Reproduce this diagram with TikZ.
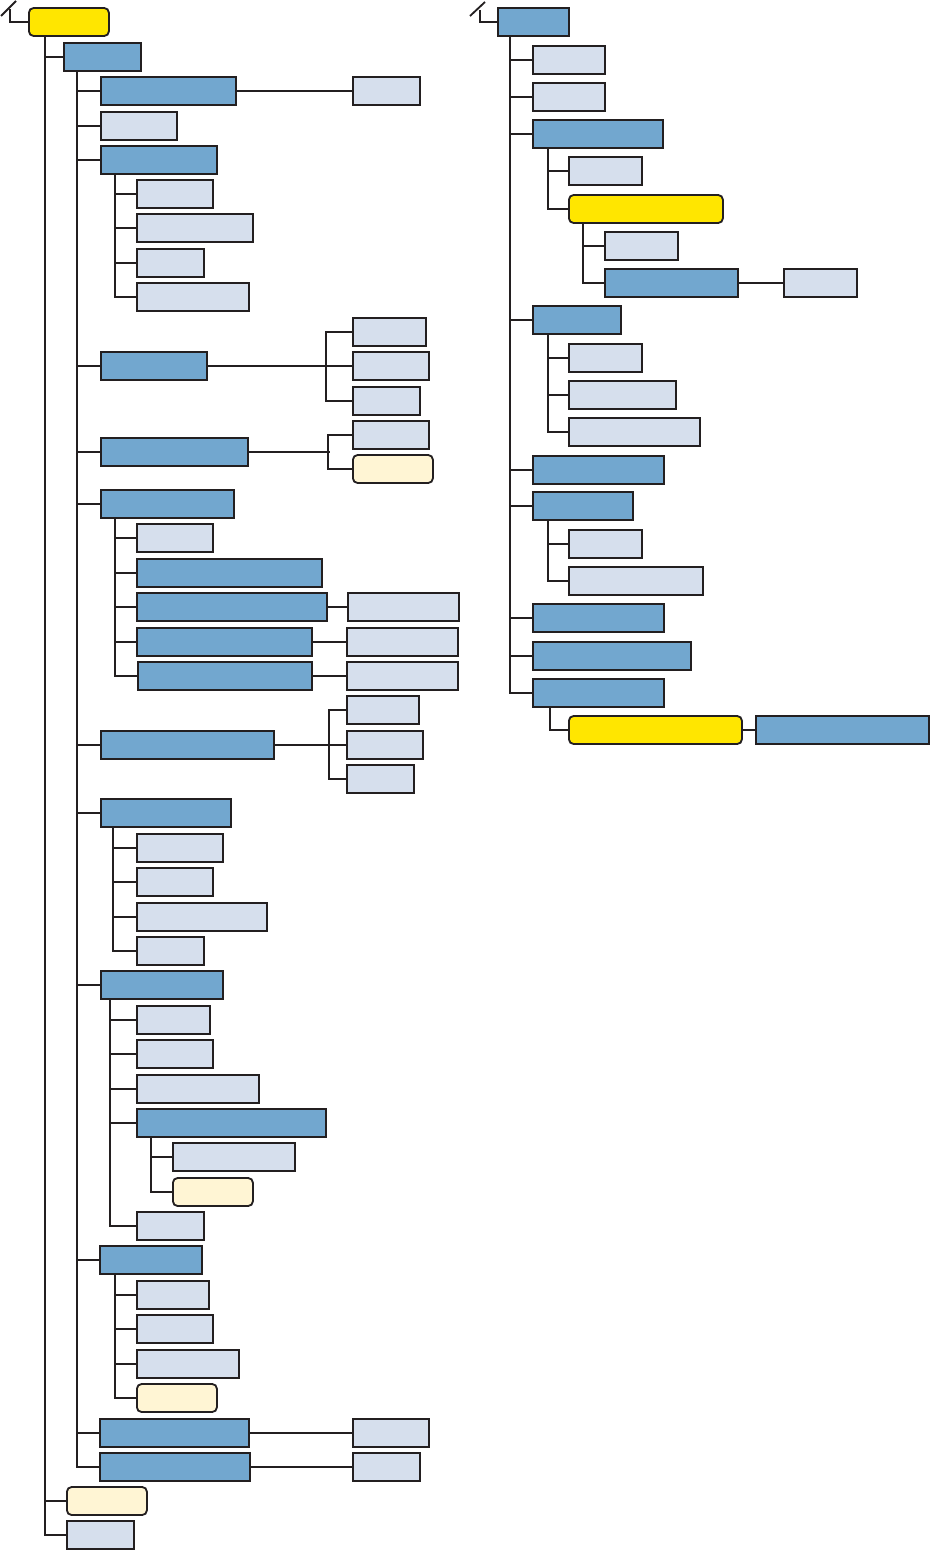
\documentclass[tikz,border=0pt]{standalone}
\usepackage{tikz}
\usetikzlibrary{positioning}
\definecolor{boxblue}{HTML}{72A7CF}
\definecolor{boxlight}{HTML}{D6DFED}
\definecolor{boxcream}{HTML}{FFF5D4}
\definecolor{boxyellow}{HTML}{FFE600}
\definecolor{ink}{HTML}{231F20}
\tikzset{
  box/.style={rectangle, draw=ink, line width=0.055cm, minimum height=0.84cm, inner sep=0pt, anchor=west},
  blu/.style={box, fill=boxblue},
  lig/.style={box, fill=boxlight},
  crm/.style={box, fill=boxcream, rounded corners=4pt},
  yel/.style={box, fill=boxyellow, rounded corners=4pt},
  wd/.style={minimum width=#1*0.03cm},
}

\begin{document}
\begin{tikzpicture}[x=0.03cm, y=-0.03cm, line width=0.055cm, draw=ink]
\useasboundingbox (0,0) rectangle (929,1552);

% left tree
\node[yel, wd=80] (root) at (28,22) {};
\coordinate (lstub) at (10,9);
\coordinate (lsl1) at (1,16);
\coordinate (lsl2) at (16,1);
\draw (root.west) -| (lstub);
\draw (lsl1) -- (lsl2);

\node[blu, wd=77] (a) at (63,57) {};
\node[crm, wd=80] (b) at (66,1501) {};
\node[lig, wd=67] (c) at (66,1535) {};
\foreach \n in {a,b,c} \draw (root.south west) ++(17,0) |- (\n.west);

\node[blu, wd=135] (a1) at (100,91) {};
\node[lig, wd=67] (a1x) at (352,91) {};
\draw (a1.east) -- (a1x.west);
\node[lig, wd=76] (a2) at (100,126) {};
\node[blu, wd=116] (a3) at (100,160) {};
\node[blu, wd=106] (a4) at (100,366) {};
\node[blu, wd=147] (a5) at (100,452) {};
\node[blu, wd=133] (a6) at (100,504) {};
\node[blu, wd=173] (a7) at (100,745) {};
\node[blu, wd=130] (a8) at (100,813) {};
\node[blu, wd=122] (a9) at (100,985) {};
\node[blu, wd=102] (a10) at (99,1260) {};
\node[blu, wd=149] (a11) at (99,1433) {};
\node[blu, wd=150] (a12) at (99,1467) {};
\foreach \n in {a1,a2,a3,a4,a5,a6,a7,a8,a9,a10,a11,a12}
  \draw (a.south west) ++(14,0) |- (\n.west);

\node[lig, wd=76] (a3a) at (136,194) {};
\node[lig, wd=116] (a3b) at (136,228) {};
\node[lig, wd=67] (a3c) at (136,263) {};
\node[lig, wd=112] (a3d) at (136,297) {};
\foreach \n in {a3a,a3b,a3c,a3d} \draw (a3.south west) ++(15,0) |- (\n.west);

\node[lig, wd=73] (a4a) at (352,332) {};
\node[lig, wd=76] (a4b) at (352,366) {};
\node[lig, wd=67] (a4c) at (352,401) {};
\draw (a4.east) -- (a4b.west);
\draw (a4a.west) -- ++(-26,0) |- (a4c.west);

\node[lig, wd=76] (a5a) at (352,435) {};
\node[crm, wd=80] (a5b) at (352,469) {};
\draw (a5.east) -- ++(81,0);
\draw (a5a.west) -- ++(-24,0) |- (a5b.west);

\node[lig, wd=76] (a6a) at (136,538) {};
\node[blu, wd=185] (a6b) at (136,573) {};
\node[blu, wd=190] (a6c) at (136,607) {};
\node[blu, wd=175] (a6d) at (136,642) {};
\node[blu, wd=174] (a6e) at (137,676) {};
\foreach \n in {a6a,a6b,a6c,a6d,a6e} \draw (a6.south west) ++(15,0) |- (\n.west);
\node[lig, wd=111] (a6cx) at (347,607) {};
\node[lig, wd=111] (a6dx) at (346,642) {};
\node[lig, wd=111] (a6ex) at (346,676) {};
\foreach \n in {a6c,a6d,a6e} \draw (\n.east) -- (\n x.west);

\node[lig, wd=72] (a7a) at (346,710) {};
\node[lig, wd=76] (a7b) at (346,745) {};
\node[lig, wd=67] (a7c) at (346,779) {};
\draw (a7.east) -- (a7b.west);
\draw (a7a.west) -- ++(-17,0) |- (a7c.west);

\node[lig, wd=86] (a8a) at (136,848) {};
\node[lig, wd=76] (a8b) at (136,882) {};
\node[lig, wd=130] (a8c) at (136,917) {};
\node[lig, wd=67] (a8d) at (136,951) {};
\foreach \n in {a8a,a8b,a8c,a8d} \draw (a8.south west) ++(13,0) |- (\n.west);

\node[lig, wd=73] (a9a) at (136,1020) {};
\node[lig, wd=76] (a9b) at (136,1054) {};
\node[lig, wd=122] (a9c) at (136,1089) {};
\node[blu, wd=189] (a9d) at (136,1123) {};
\node[lig, wd=67] (a9e) at (136,1226) {};
\foreach \n in {a9a,a9b,a9c,a9d,a9e} \draw (a9.south west) ++(10,0) |- (\n.west);
\node[lig, wd=122] (a9d1) at (172,1157) {};
\node[crm, wd=80] (a9d2) at (172,1192) {};
\foreach \n in {a9d1,a9d2} \draw (a9d.south west) ++(15,0) |- (\n.west);

\node[lig, wd=72] (a10a) at (136,1295) {};
\node[lig, wd=76] (a10b) at (136,1329) {};
\node[lig, wd=102] (a10c) at (136,1364) {};
\node[crm, wd=80] (a10d) at (136,1398) {};
\foreach \n in {a10a,a10b,a10c,a10d} \draw (a10.south west) ++(16,0) |- (\n.west);

\node[lig, wd=76] (a11x) at (352,1433) {};
\node[lig, wd=67] (a12x) at (352,1467) {};
\foreach \n in {a11,a12} \draw (\n.east) -- (\n x.west);

% right tree
\node[blu, wd=71] (r) at (497,22) {};
\coordinate (rstub) at (480,10);
\coordinate (rsl1) at (470,16);
\coordinate (rsl2) at (485,2);
\draw (r.west) -| (rstub);
\draw (rsl1) -- (rsl2);

\node[lig, wd=72] (r1) at (532,60) {};
\node[lig, wd=72] (r2) at (532,97) {};
\node[blu, wd=130] (r3) at (532,134) {};
\node[blu, wd=88] (r4) at (532,320) {};
\node[blu, wd=131] (r5) at (532,470) {};
\node[blu, wd=100] (r6) at (532,506) {};
\node[blu, wd=131] (r7) at (532,618) {};
\node[blu, wd=158] (r8) at (532,656) {};
\node[blu, wd=131] (r9) at (532,693) {};
\foreach \n in {r1,r2,r3,r4,r5,r6,r7,r8,r9} \draw (r.south west) ++(13,0) |- (\n.west);

\node[lig, wd=73] (r3a) at (568,171) {};
\node[yel, wd=154] (r3b) at (568,209) {};
\foreach \n in {r3a,r3b} \draw (r3.south west) ++(16,0) |- (\n.west);
\node[lig, wd=73] (r3b1) at (604,246) {};
\node[blu, wd=133] (r3b2) at (604,283) {};
\foreach \n in {r3b1,r3b2} \draw (r3b.south west) ++(15,0) |- (\n.west);
\node[lig, wd=73] (r3b2x) at (783,283) {};
\draw (r3b2.east) -- (r3b2x.west);

\node[lig, wd=73] (r4a) at (568,358) {};
\node[lig, wd=107] (r4b) at (568,395) {};
\node[lig, wd=131] (r4c) at (568,432) {};
\foreach \n in {r4a,r4b,r4c} \draw (r4.south west) ++(16,0) |- (\n.west);

\node[lig, wd=73] (r6a) at (568,544) {};
\node[lig, wd=134] (r6b) at (568,581) {};
\foreach \n in {r6a,r6b} \draw (r6.south west) ++(16,0) |- (\n.west);

\node[yel, wd=173] (r9a) at (568,730) {};
\node[blu, wd=173] (r9ax) at (755,730) {};
\draw (r9.south west) ++(18,0) |- (r9a.west);
\draw (r9a.east) -- (r9ax.west);
\end{tikzpicture}
\end{document}
